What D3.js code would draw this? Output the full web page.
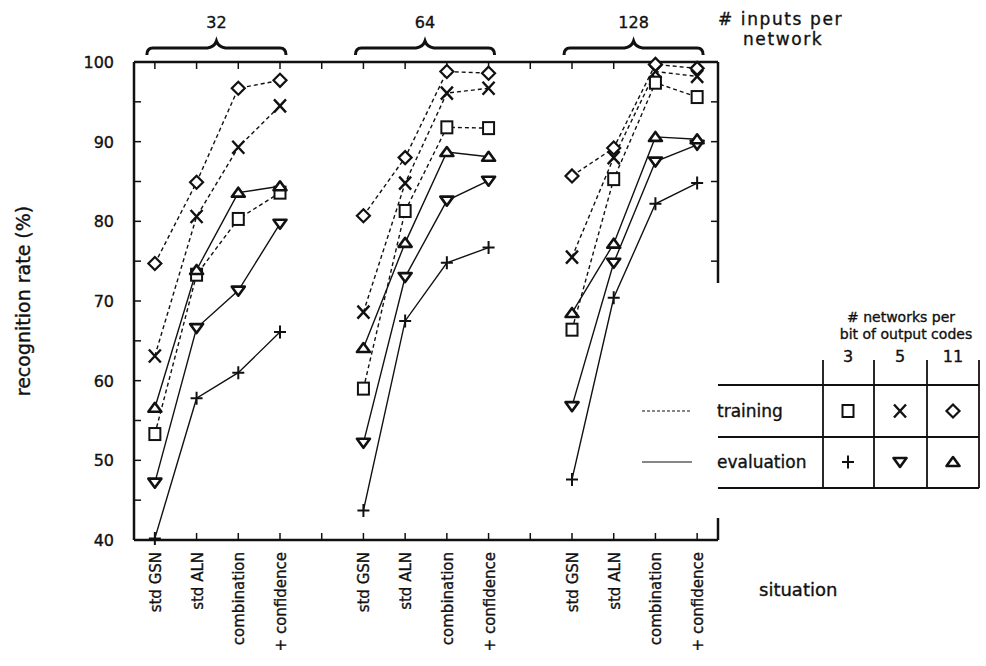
<!DOCTYPE html>
<html><head><meta charset="utf-8">
<script src="https://cdn.jsdelivr.net/npm/d3@7"></script>
<style>
body{margin:0;background:#fff}
text{font-family:"DejaVu Sans",sans-serif;fill:#111;stroke:#111;stroke-width:0.35px}
</style></head>
<body><svg id="c" width="986" height="666"></svg>
<script>
// ---- data ----
const groups = ["32", "64", "128"];
const situations = ["std GSN", "std ALN", "combination", "+ confidence"];
const yTickLabels = [40, 50, 60, 70, 80, 90, 100];
const netsPerBit = ["3", "5", "11"];
// values per group: [32 inputs x4, 64 inputs x4, 128 inputs x4]
const train3  = [53.3, 73.3, 80.3, 83.6,  59.0, 81.3, 91.8, 91.7,  66.4, 85.3, 97.4, 95.6];
const train5  = [63.1, 80.6, 89.3, 94.5,  68.6, 84.8, 96.1, 96.7,  75.5, 88.0, 98.8, 98.2];
const train11 = [74.7, 84.9, 96.7, 97.7,  80.7, 88.0, 98.8, 98.6,  85.7, 89.2, 99.7, 99.2];
const eval3   = [40.2, 57.8, 61.0, 66.1,  43.7, 67.5, 74.8, 76.7,  47.6, 70.4, 82.2, 84.8];
const eval5   = [47.2, 66.6, 71.3, 79.7,  52.2, 73.0, 82.6, 85.1,  56.8, 74.8, 87.5, 89.6];
const eval11  = [56.6, 73.9, 83.6, 84.4,  64.1, 77.3, 88.7, 88.1,  68.5, 77.2, 90.6, 90.3];

const series = [
  {values: train3,  dashed: true,  marker: "square"},
  {values: train5,  dashed: true,  marker: "x"},
  {values: train11, dashed: true,  marker: "diamond"},
  {values: eval3,   dashed: false, marker: "plus"},
  {values: eval5,   dashed: false, marker: "down"},
  {values: eval11,  dashed: false, marker: "up"}
];
const legendMarkers = [["square", "x", "diamond"], ["plus", "down", "up"]];
const legendRows = ["training", "evaluation"];

// ---- layout ----
const svg = d3.select("#c");
const L = 134, R = 718, T = 62, B = 540;
const nPos = groups.length * (situations.length + 1) - 1; // 14
const x = d3.scaleLinear().domain([-0.5, nPos - 0.5]).range([L, R]);
const y = d3.scaleLinear().domain([40, 100]).range([B, T]);
const pos = (g, s) => g * (situations.length + 1) + s;

const ink = "#111";

// frame lines
svg.append("line").attr("x1", L).attr("x2", L).attr("y1", T).attr("y2", B).attr("stroke", ink).attr("stroke-width", 2.5);
svg.append("line").attr("x1", L).attr("x2", R).attr("y1", T).attr("y2", T).attr("stroke", ink).attr("stroke-width", 2.5);
svg.append("line").attr("x1", L).attr("x2", R).attr("y1", B).attr("y2", B).attr("stroke", ink).attr("stroke-width", 2.5);
svg.append("line").attr("x1", R).attr("x2", R).attr("y1", T).attr("y2", 283).attr("stroke", ink).attr("stroke-width", 2.5);
svg.append("line").attr("x1", R).attr("x2", R).attr("y1", 518).attr("y2", B).attr("stroke", ink).attr("stroke-width", 2.5);

// y ticks every 5 units
const minor = d3.range(45, 100, 5);
svg.selectAll(".yl").data(minor).join("line")
  .attr("x1", L).attr("x2", L + 7).attr("y1", d => y(d)).attr("y2", d => y(d))
  .attr("stroke", ink).attr("stroke-width", 1.5);
svg.selectAll(".yr").data(minor.filter(d => y(d) < 283)).join("line")
  .attr("x1", R).attr("x2", R - 7).attr("y1", d => y(d)).attr("y2", d => y(d))
  .attr("stroke", ink).attr("stroke-width", 1.5);
svg.selectAll(".ytl").data(yTickLabels).join("text")
  .attr("x", 114).attr("y", d => y(d) + 6).attr("text-anchor", "end")
  .attr("font-size", 16).text(d => d);

// x ticks (all positions incl. gaps)
const allPos = d3.range(nPos);
svg.selectAll(".xb").data(allPos).join("line")
  .attr("x1", d => x(d)).attr("x2", d => x(d)).attr("y1", B).attr("y2", B - 7)
  .attr("stroke", ink).attr("stroke-width", 1.5);
svg.selectAll(".xt").data(allPos).join("line")
  .attr("x1", d => x(d)).attr("x2", d => x(d)).attr("y1", T).attr("y2", T + 7)
  .attr("stroke", ink).attr("stroke-width", 1.5);

// x tick labels
groups.forEach((g, gi) => {
  situations.forEach((s, si) => {
    const px = x(pos(gi, si));
    svg.append("text").attr("transform", `translate(${px + 6},552) rotate(-90)`)
      .attr("text-anchor", "end").attr("font-size", 15).text(s);
  });
  // brace + group label
  const x0 = x(pos(gi, 0)) - 8, x1 = x(pos(gi, situations.length - 1)) + 6;
  const cx = (x0 + x1) / 2;
  const p = d3.path();
  p.moveTo(x0, 55);
  p.quadraticCurveTo(x0, 48, x0 + 6, 48);
  p.lineTo(cx - 9, 48);
  p.quadraticCurveTo(cx - 2, 47, cx, 41);
  p.quadraticCurveTo(cx + 2, 47, cx + 9, 48);
  p.lineTo(x1 - 6, 48);
  p.quadraticCurveTo(x1, 48, x1, 55);
  svg.append("path").attr("d", p.toString()).attr("fill", "none").attr("stroke", ink).attr("stroke-width", 3);
  svg.append("text").attr("x", cx).attr("y", 28).attr("text-anchor", "middle").attr("font-size", 16).text(g);
});

svg.append("text").attr("x", 718).attr("y", 25).attr("font-size", 17).attr("letter-spacing", 1.6).text("# inputs per");
svg.append("text").attr("x", 743).attr("y", 45).attr("font-size", 17).attr("letter-spacing", 1.6).text("network");

svg.append("text").attr("transform", "translate(30,301) rotate(-90)")
  .attr("text-anchor", "middle").attr("font-size", 19).text("recognition rate (%)");
svg.append("text").attr("x", 759).attr("y", 596).attr("font-size", 18).text("situation");

// markers
function drawMarker(sel, type, px, py) {
  const gm = sel.append("g").attr("transform", `translate(${px},${py})`);
  if (type === "square") gm.append("rect").attr("x", -5.5).attr("y", -6).attr("width", 11).attr("height", 12)
    .attr("fill", "#fff").attr("stroke", ink).attr("stroke-width", 2);
  if (type === "diamond") gm.append("path").attr("d", "M0,-6.5L6.5,0L0,6.5L-6.5,0Z")
    .attr("fill", "#fff").attr("stroke", ink).attr("stroke-width", 2.2);
  if (type === "up") gm.append("path").attr("d", "M-6.5,4L6.5,4L0,-5Z")
    .attr("fill", "#fff").attr("stroke", ink).attr("stroke-width", 2.6).attr("stroke-linejoin", "round");
  if (type === "down") gm.append("path").attr("d", "M-6.5,-4L6.5,-4L0,5Z")
    .attr("fill", "#fff").attr("stroke", ink).attr("stroke-width", 2.6).attr("stroke-linejoin", "round");
  if (type === "x") gm.append("path").attr("d", "M-6,-6.5L6,6.5M-6,6.5L6,-6.5")
    .attr("stroke", ink).attr("stroke-width", 2.4);
  if (type === "plus") gm.append("path").attr("d", "M-6,0L6,0M0,-6.5L0,6.5")
    .attr("stroke", ink).attr("stroke-width", 2);
}

const line = d3.line().x(d => x(d.p)).y(d => y(d.v));
const plot = svg.append("g");
series.forEach(s => {
  groups.forEach((g, gi) => {
    const pts = situations.map((_, si) => ({p: pos(gi, si), v: s.values[gi * situations.length + si]}));
    plot.append("path").attr("d", line(pts)).attr("fill", "none").attr("stroke", ink)
      .attr("stroke-width", 1.4).attr("stroke-dasharray", s.dashed ? "4,3" : null);
  });
});
series.forEach(s => {
  groups.forEach((g, gi) => {
    situations.forEach((_, si) => {
      drawMarker(plot, s.marker, x(pos(gi, si)), y(s.values[gi * situations.length + si]));
    });
  });
});

// legend table
const lg = svg.append("g");
const colX = [848, 900, 953];
const vLines = [823, 874, 927, 979];
const hLines = [385, 437, 488];
const rowY = [411, 462];
lg.append("text").attr("x", 901).attr("y", 322).attr("text-anchor", "middle").attr("font-size", 14).text("# networks per");
lg.append("text").attr("x", 906).attr("y", 339).attr("text-anchor", "middle").attr("font-size", 14).text("bit of output codes");
netsPerBit.forEach((n, i) => lg.append("text").attr("x", colX[i]).attr("y", 362).attr("text-anchor", "middle").attr("font-size", 16).text(n));
vLines.forEach(vx => lg.append("line").attr("x1", vx).attr("x2", vx).attr("y1", 360).attr("y2", 488).attr("stroke", ink).attr("stroke-width", 1.8));
hLines.forEach(hy => lg.append("line").attr("x1", R).attr("x2", 979).attr("y1", hy).attr("y2", hy).attr("stroke", ink).attr("stroke-width", 1.8));
legendRows.forEach((r, i) => {
  lg.append("text").attr("x", 717).attr("y", rowY[i] + 6).attr("font-size", 17).text(r);
  lg.append("line").attr("x1", 642).attr("x2", 692).attr("y1", rowY[i]).attr("y2", rowY[i])
    .attr("stroke", ink).attr("stroke-width", 1.2).attr("stroke-dasharray", i === 0 ? "3,2" : null);
  legendMarkers[i].forEach((m, j) => drawMarker(lg, m, colX[j], rowY[i]));
});
</script>
</body></html>
